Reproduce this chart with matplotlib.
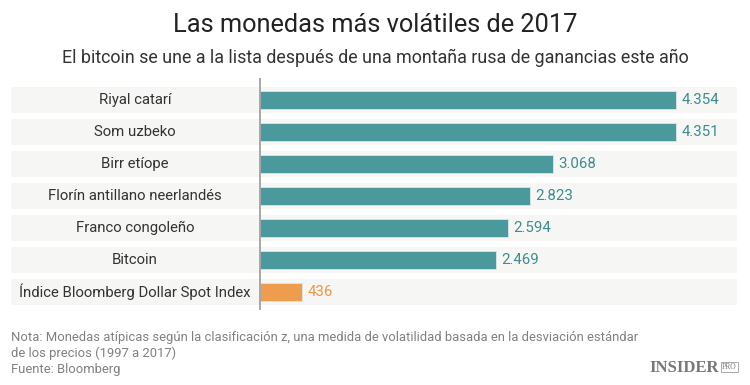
import matplotlib
matplotlib.use("Agg")
import matplotlib.pyplot as plt
import matplotlib.transforms as mtransforms

# datos
categorias = ["Riyal catarí", "Som uzbeko", "Birr etíope", "Florín antillano neerlandés",
              "Franco congoleño", "Bitcoin", "Índice Bloomberg Dollar Spot Index"]
valores = [4354, 4351, 3068, 2823, 2594, 2469, 436]
colores = ["#4a999c"] * 6 + ["#ee9d4e"]
colores_texto = ["#3d8d91"] * 6 + ["#ee9646"]

plt.rcParams["font.family"] = ["Roboto", "DejaVu Sans"]

W, H = 750, 385
fig = plt.figure(figsize=(7.5, 3.85), dpi=100)
fig.patch.set_facecolor("white")

ax = fig.add_axes([11 / W, 1 - 310 / H, 726 / W, 232 / H])
ax.set_facecolor("none")

px = 0.0955  # pixeles por unidad
ax.set_xlim(-(260 - 11) / px, (737 - 260) / px)
ax.set_ylim(6.56, -0.69)

for i in range(len(categorias)):
    ax.axhspan(i - 0.41, i + 0.41, color="#f6f6f4", zorder=0, lw=0)

ax.barh(range(len(valores)), valores, height=0.56, color=colores,
        edgecolor="#d8e9ea", linewidth=0.6, zorder=2)
ax.axvline(0, color="#9a9a9a", lw=1.2, zorder=3)

trans = mtransforms.blended_transform_factory(ax.transAxes, ax.transData)
for i, (cat, v) in enumerate(zip(categorias, valores)):
    ax.text(0.171, i, cat, transform=trans, ha="center", va="center",
            fontsize=10.7, color="#333333")
    ax.text(v + 60, i, f"{v:,}".replace(",", "."), ha="left", va="center",
            fontsize=10.8, color=colores_texto[i])

for s in ax.spines.values():
    s.set_visible(False)
ax.set_xticks([])
ax.set_yticks([])

fig.text(0.5, 1 - 25 / H, "Las monedas más volátiles de 2017", ha="center", va="center",
         fontsize=18.3, color="#222222")
fig.text(0.5, 1 - 58 / H, "El bitcoin se une a la lista después de una montaña rusa de ganancias este año",
         ha="center", va="center", fontsize=12.9, color="#333333")

nota = ("Nota: Monedas atípicas según la clasificación z, una medida de volatilidad basada en la desviación estándar\n"
        "de los precios (1997 a 2017)\n"
        "Fuente: Bloomberg")
fig.text(11 / W, 1 - 331 / H, nota, ha="left", va="top", fontsize=9.4, color="#808080",
         linespacing=1.25)

fig.text(719 / W, 1 - 368 / H, "INSIDER", ha="right", va="center", fontsize=12,
         color="#777777", family=["Liberation Serif", "DejaVu Serif"], weight="bold")
fig.text(722 / W, 1 - 367 / H, "PRO", ha="left", va="center", fontsize=5.5,
         color="#777777", family=["Liberation Serif", "DejaVu Serif"],
         bbox=dict(boxstyle="square,pad=0.15", fc="none", ec="#888888", lw=0.5))

fig.savefig("out.png", dpi=100, facecolor="white")
